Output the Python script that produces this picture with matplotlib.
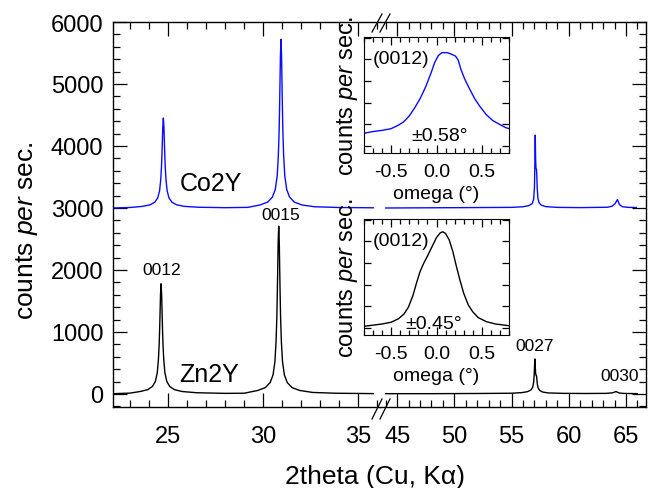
import matplotlib
matplotlib.use("Agg")
import matplotlib.pyplot as plt
from matplotlib.lines import Line2D
from matplotlib.ticker import MultipleLocator, FormatStrFormatter
import numpy as np

plt.rcParams['font.family'] = ['Liberation Sans', 'DejaVu Sans']
plt.rcParams['mathtext.fontset'] = 'custom'
plt.rcParams['mathtext.rm'] = 'Liberation Sans'
plt.rcParams['mathtext.it'] = 'Liberation Sans:italic'
plt.rcParams['axes.unicode_minus'] = False

# 2theta scans, low-angle segment (22-36 deg)
zn_left_x = [22.1, 23.0, 23.53, 23.93, 24.18, 24.33, 24.43, 24.49, 24.53, 24.555,
             24.58, 24.60, 24.63, 24.66, 24.68, 24.705, 24.73, 24.77, 24.83, 24.93,
             25.08, 25.33, 25.73, 26.5, 28.0, 29.0, 29.72, 30.12, 30.37, 30.52,
             30.62, 30.68, 30.72, 30.745, 30.77, 30.79, 30.82, 30.85, 30.87, 30.895,
             30.92, 30.96, 31.02, 31.12, 31.27, 31.52, 31.92, 32.6, 33.8, 35.8]
zn_left_y = [5, 14, 40, 70, 123, 203, 344, 557, 805, 1052,
             1353, 1601, 1778, 1601, 1353, 1052, 805, 557, 344, 203,
             123, 70, 40, 20, 10, 12, 57, 103, 184, 305,
             521, 845, 1223, 1601, 2060, 2438, 2708, 2438, 2060, 1601,
             1223, 845, 521, 305, 184, 103, 57, 25, 12, 6]

co_left_x = [22.1, 23.0, 23.65, 24.05, 24.30, 24.45, 24.55, 24.61, 24.65, 24.675,
             24.70, 24.72, 24.75, 24.78, 24.80, 24.825, 24.85, 24.89, 24.95, 25.05,
             25.20, 25.45, 25.85, 26.6, 28.0, 29.2, 29.84, 30.24, 30.49, 30.64,
             30.74, 30.80, 30.84, 30.865, 30.89, 30.91, 30.94, 30.97, 30.99, 31.015,
             31.04, 31.08, 31.14, 31.24, 31.39, 31.64, 32.04, 32.7, 34.0, 35.8]
co_left_y = [3000, 3008, 3026, 3051, 3094, 3160, 3276, 3450, 3653, 3856,
             4102, 4305, 4450, 4305, 4102, 3856, 3653, 3450, 3276, 3160,
             3094, 3051, 3026, 3012, 3005, 3010, 3049, 3095, 3177, 3299,
             3517, 3843, 4224, 4605, 5067, 5448, 5720, 5448, 5067, 4605,
             4224, 3843, 3517, 3299, 3177, 3095, 3049, 3020, 3008, 3003]

# 2theta scans, high-angle segment (44-66 deg)
zn_right_x = [44.0, 48.0, 52.0, 55.0, 55.9, 56.4, 56.7, 56.85, 56.93, 56.98,
              57.01, 57.04, 57.07, 57.1, 57.14, 57.18, 57.21, 57.25, 57.32, 57.45,
              57.7, 58.2, 59.5, 61.5, 63.3, 63.8, 64.0, 64.12, 64.22, 64.4,
              64.8, 66.0]
zn_right_y = [5, 5, 8, 12, 22, 38, 65, 110, 190, 320,
              460, 565, 450, 340, 300, 295, 240, 160, 100, 58,
              32, 17, 10, 8, 10, 18, 30, 40, 32, 16,
              9, 5]

co_right_x = [44.0, 50.0, 55.0, 56.0, 56.5, 56.8, 56.93, 57.0, 57.04, 57.07,
              57.1, 57.13, 57.17, 57.2, 57.24, 57.3, 57.4, 57.6, 58.0, 59.0,
              61.0, 63.4, 63.8, 64.05, 64.2, 64.26, 64.33, 64.45, 64.7, 65.2,
              65.9]
co_right_y = [3000, 3005, 3010, 3020, 3038, 3070, 3140, 3330, 3750, 4175,
              3800, 3650, 3625, 3560, 3330, 3160, 3085, 3045, 3022, 3010,
              3006, 3012, 3030, 3070, 3120, 3135, 3100, 3050, 3020, 3010,
              3008]

# rocking curves of the (0012) reflection
co_omega = [-0.8, -0.7, -0.6, -0.5, -0.42, -0.36, -0.3, -0.24, -0.18, -0.12,
            -0.06, -0.02, 0.02, 0.06, 0.12, 0.17, 0.21, 0.24, 0.27, 0.31,
            0.36, 0.42, 0.48, 0.55, 0.62, 0.7, 0.76, 0.8]
co_rock = [17, 18.5, 19.5, 21, 24, 27, 32, 39, 47, 57,
           69, 78, 84, 86.5, 86.5, 85, 83.5, 80, 72, 64,
           56, 47, 40, 33, 28, 24.5, 22, 21]
zn_omega = [-0.8, -0.7, -0.6, -0.5, -0.42, -0.36, -0.31, -0.26, -0.22, -0.18,
            -0.14, -0.1, -0.05, 0.0, 0.04, 0.07, 0.1, 0.14, 0.18, 0.22,
            0.26, 0.3, 0.35, 0.4, 0.46, 0.55, 0.65, 0.8]
zn_rock = [7.5, 8.5, 9.5, 11, 14, 18, 24, 34, 45, 55,
           62, 68, 76, 84, 88, 89, 87.5, 82, 72, 59,
           47, 36, 26, 20, 15, 11.5, 9.5, 8]

peak_labels = ['0012', '0015', '0027', '0030']
peak_label_x = [24.65, 30.94, 57.04, 64.46]
peak_label_y = [2000, 2890, 775, 306]

BLUE = '#0a0aff'
W, H = 656, 489


def px(x, y):
    return x / W, 1 - y / H


fig = plt.figure(figsize=(W / 100, H / 100), dpi=100)
bottom = 1 - 408 / H
height = 385 / H
axL = fig.add_axes([113 / W, bottom, 267 / W, height])
axR = fig.add_axes([380 / W, bottom, 266 / W, height], sharey=axL)

axL.plot(co_left_x, co_left_y, color=BLUE, lw=1.0)
axL.plot(zn_left_x, zn_left_y, color='black', lw=1.0)
axR.plot(co_right_x, co_right_y, color=BLUE, lw=1.0)
axR.plot(zn_right_x, zn_right_y, color='black', lw=1.0)

axL.set_xlim(22.1, 36.15)
axR.set_xlim(43.5, 66.75)
axL.set_ylim(-210, 6000)

for ax in (axL, axR):
    ax.xaxis.set_major_locator(MultipleLocator(5))
    ax.xaxis.set_minor_locator(MultipleLocator(1))
    ax.yaxis.set_major_locator(MultipleLocator(1000))
    ax.yaxis.set_minor_locator(MultipleLocator(200))
    ax.tick_params(which='both', direction='in', top=True, width=0.9)
    ax.tick_params(which='major', length=10, labelsize=17)
    ax.tick_params(which='minor', length=5)
    ax.tick_params(axis='x', pad=13)
    ax.tick_params(axis='y', pad=7)
    for s in ax.spines.values():
        s.set_linewidth(1.0)

axL.spines['right'].set_visible(False)
axL.tick_params(axis='y', which='both', right=False)
axR.spines['left'].set_visible(False)
axR.tick_params(axis='y', which='both', left=False, labelleft=False, right=True)

# break marks
for yb, yt in ((33, 15), (420, 400)):
    for x0 in (372, 380):
        x1 = x0 + 10
        fig.add_artist(Line2D([x0 / W, x1 / W], [1 - yb / H, 1 - yt / H],
                              color='black', lw=0.9))

axL.text(25.6, 3400, 'Co2Y', fontsize=18, ha='left', va='center')
axL.text(25.6, 320, 'Zn2Y', fontsize=18, ha='left', va='center')
for lab, x, y in zip(peak_labels, peak_label_x, peak_label_y):
    ax = axL if x < 40 else axR
    ax.text(x, y, lab, fontsize=12.5, ha='center', va='center')

fig.text(*px(27, 231), 'counts $\\it{per}$ sec.', rotation=90,
         fontsize=19, ha='center', va='center')
fig.text(*px(375, 477), '2theta (Cu, K\u03b1)', fontsize=19,
         ha='center', va='center')

# rocking-curve insets
insets = [
    (38, co_omega, co_rock, BLUE, '\u00b10.58\u00b0', (0.524, 0.147)),
    (220, zn_omega, zn_rock, 'black', '\u00b10.45\u00b0', (0.48, 0.10)),
]
for top, om, rc, col, fwhm, fpos in insets:
    ins = fig.add_axes([364 / W, 1 - (top + 116) / H, 145 / W, 116 / H])
    ins.plot(om, rc, color=col, lw=1.0)
    ins.set_xlim(-0.8, 0.8)
    ins.set_ylim(0, 100)
    ins.xaxis.set_major_locator(MultipleLocator(0.5))
    ins.xaxis.set_minor_locator(MultipleLocator(0.1))
    ins.xaxis.set_major_formatter(FormatStrFormatter('%.1f'))
    ins.set_yticks(np.arange(6.3, 100, 18.6))
    ins.tick_params(which='both', direction='in', top=True, right=True,
                    labelleft=False, width=0.9, labelsize=14)
    ins.tick_params(axis='x', which='major', length=6, pad=7)
    ins.tick_params(axis='x', which='minor', length=3.5)
    ins.tick_params(axis='y', which='major', length=5)
    ins.set_xlabel('omega (\u00b0)', fontsize=14, labelpad=4)
    ins.set_ylabel('counts $\\it{per}$ sec.', fontsize=17, labelpad=3)
    ins.text(0.062, 0.815, '(0012)', transform=ins.transAxes, fontsize=14,
             ha='left', va='center')
    ins.text(fpos[0], fpos[1], fwhm, transform=ins.transAxes, fontsize=14,
             ha='center', va='center')

fig.savefig('out.png', dpi=100)
